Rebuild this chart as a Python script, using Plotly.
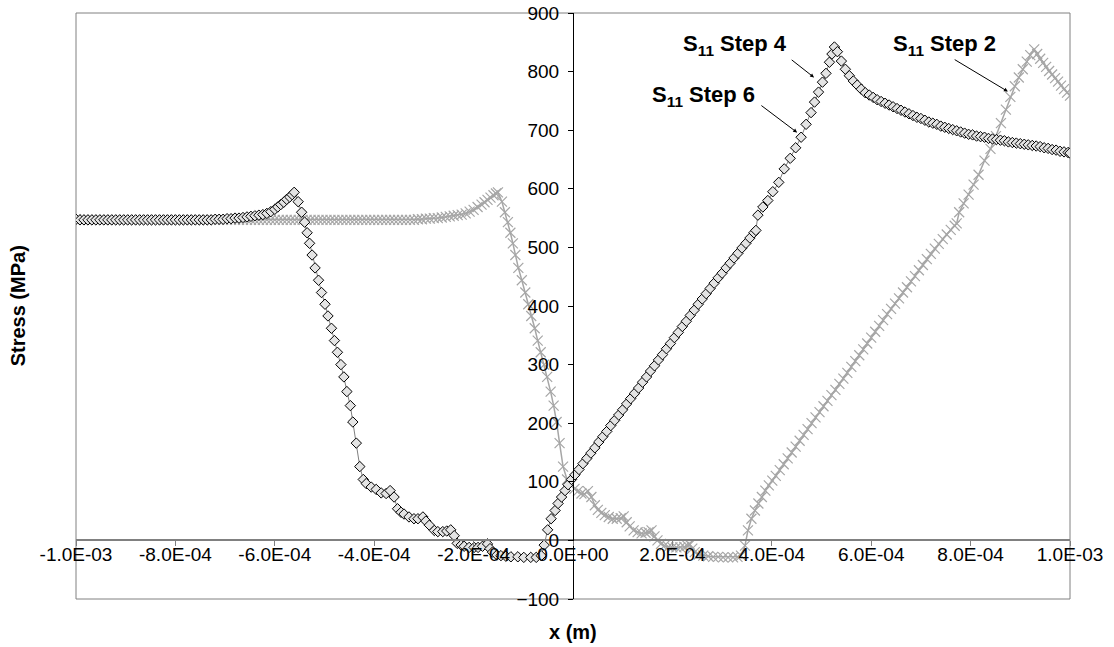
import plotly.graph_objects as go

# ---------------- data (x in micrometres, stress in MPa) ----------------
# S11 Step 4 / Step 6 (diamond series)
step46_x_um = [
    -1000, -992, -984, -976, -968, -960, -952, -944, -936, -928,
    -920, -912, -904, -896, -888, -880, -872, -864, -856, -848,
    -840, -832, -824, -816, -808, -800, -792, -784, -776, -768,
    -760, -752, -744, -736, -728, -720, -712, -704, -696, -688,
    -680, -672, -664, -656, -648, -640,
    -632, -624, -616, -608, -600, -594, -588, -582, -576, -570, -565, -561,
    -553, -546, -540, -535, -530, -525, -519, -512, -506, -499, -493, -486,
    -480, -474, -467, -461, -455, -448, -443, -436, -429, -422,
    -416, -406, -396, -386, -376, -368, -360, -353, -346, -340,
    -330, -320, -312, -302, -296, -289, -279, -272, -262, -254,
    -246, -239, -233, -225, -219, -209, -199, -191, -182, -172,
    -167, -162, -153, -145, -135, -125, -111, -99, -85, -74, -64,
    -58, -51, -44, -36, -30, -23, -16, -10, -3, 4,
    12, 20, 28, 36, 44, 52, 60, 68, 76, 84,
    92, 100, 108, 116, 124, 132, 140, 148, 156, 164,
    172, 180, 188, 196, 204, 212, 220, 228, 236, 244,
    252, 260, 268, 276, 284, 292, 300, 308, 316, 324,
    332, 340, 348, 356, 364, 368,
    372, 382, 392, 402, 414, 425, 437, 448, 459, 469,
    479, 486, 494, 502, 509, 516, 521, 526,
    532, 540, 548, 556, 564, 572, 580, 588, 596, 604,
    612, 620, 628, 636, 644, 652, 660, 668, 676, 684,
    692, 700, 708, 716, 724, 732, 740, 748, 756, 764,
    772, 780, 788, 796, 804, 812, 820, 828, 836, 844,
    852, 860, 868, 876, 884, 892, 900, 908, 916, 924,
    932, 940, 948, 956, 964, 972, 980, 988, 996, 1000,
]
step46_mpa = [
    548, 547, 547, 547, 547, 547, 547, 547, 547, 547,
    547, 547, 547, 547, 547, 547, 547, 547, 547, 547,
    547, 547, 547, 547, 547, 547, 547, 547, 547, 547,
    547, 547, 547, 547, 547, 548, 548, 548, 549, 549,
    550, 550, 551, 552, 553, 554,
    555, 556, 558, 561, 565, 569, 573, 577, 582, 586, 590, 594,
    578, 560, 543, 525, 507, 487, 465, 444, 423, 403, 383, 362,
    341, 321, 300, 279, 254, 230, 202, 166, 126, 104,
    97, 91, 87, 81, 80, 85, 74, 54, 48, 45,
    40, 37, 37, 40, 33, 26, 17, 15, 15, 16,
    18, 8, -5, -8, -10, -12, -12, -12, -10, -6,
    -14, -20, -25, -26, -27, -28, -28, -29, -29, -29, -26,
    -8, 18, 37, 51, 63, 74, 85, 95, 104, 112,
    121, 131, 140, 149, 158, 168, 177, 186, 196, 205,
    214, 223, 233, 242, 251, 260, 270, 279, 289, 298,
    308, 317, 327, 336, 346, 355, 365, 374, 384, 393,
    403, 412, 421, 430, 439, 448, 456, 465, 473, 482,
    490, 499, 507, 516, 525, 529,
    555, 569, 580, 595, 611, 634, 652, 670, 688, 710,
    730, 748, 765, 782, 797, 816, 830, 842,
    834, 818, 804, 793, 784, 777, 770, 764, 760, 756,
    752, 749, 746, 743, 740, 737, 734, 731, 728, 725,
    722, 720, 717, 714, 712, 710, 707, 705, 703, 701,
    699, 697, 695, 693, 692, 690, 689, 688, 686, 685,
    684, 683, 682, 680, 679, 678, 677, 676, 675, 674,
    673, 672, 670, 669, 667, 666, 664, 663, 662, 661,
]

# S11 Step 2 (star series)
step2_x_um = [
    -1000, -992, -984, -976, -968, -960, -952, -944, -936, -928,
    -920, -912, -904, -896, -888, -880, -872, -864, -856, -848,
    -840, -832, -824, -816, -808, -800, -792, -784, -776, -768,
    -760, -752, -744, -736, -728, -720, -712, -704, -696, -688,
    -680, -672, -664, -656, -648, -640, -632, -624, -616, -608,
    -600, -592, -584, -576, -568, -560, -552, -544, -536, -528,
    -520, -512, -504, -496, -488, -480, -472, -464, -456, -448,
    -440, -432, -424, -416, -408, -400, -392, -384, -376, -368,
    -360, -352, -344, -336, -328, -320, -312, -304, -296, -288,
    -280, -272, -264, -256, -248, -240,
    -232, -224, -216, -208, -200, -192, -184, -178, -172, -166, -160, -155, -151,
    -143, -137, -131, -126, -121, -116, -110, -103, -96, -90, -84, -77,
    -71, -65, -58, -52, -45, -39, -33, -27, -20, -12,
    -5, 3, 10, 17, 23, 30, 37, 44, 50, 57,
    64, 72, 80, 88, 96, 102, 108, 114, 122, 130,
    138, 146, 152, 158, 164, 170, 177, 184, 192, 200,
    208, 216, 224, 230, 235, 240, 245, 253, 262, 272,
    282, 292, 302, 312, 322, 331, 338,
    346, 352, 359, 366, 373, 380, 387, 394, 401, 408,
    416, 424, 432, 440, 448, 456, 464, 472, 480, 488,
    496, 504, 512, 520, 528, 536, 544, 552, 560, 568,
    576, 584, 592, 600, 608, 616, 624, 632, 640, 648,
    656, 664, 672, 680, 688, 696, 704, 712, 720, 728,
    736, 744, 752, 760, 768, 772,
    777, 786, 796, 806, 816, 828, 840, 851, 861, 871,
    880, 889, 897, 905, 913, 920, 928,
    934, 940, 946, 952, 958, 964, 970, 976, 982, 988, 994, 1000,
]
step2_mpa = [
    548, 547, 547, 547, 547, 547, 547, 547, 547, 547,
    547, 547, 547, 547, 547, 547, 547, 547, 547, 547,
    547, 547, 547, 547, 547, 547, 547, 547, 547, 547,
    547, 547, 547, 547, 547, 547, 547, 547, 547, 547,
    547, 547, 547, 547, 547, 547, 547, 547, 547, 547,
    547, 547, 547, 547, 547, 547, 547, 547, 547, 547,
    547, 547, 547, 547, 547, 547, 547, 547, 547, 547,
    547, 547, 547, 547, 547, 547, 547, 547, 547, 547,
    547, 547, 547, 547, 547, 547, 548, 548, 549, 549,
    550, 550, 551, 552, 553, 554,
    555, 556, 558, 561, 564, 569, 573, 577, 581, 585, 589, 592, 594,
    578, 560, 543, 525, 507, 487, 465, 444, 423, 403, 383, 362,
    341, 321, 300, 279, 254, 230, 202, 166, 126, 104,
    95, 88, 84, 80, 79, 84, 74, 60, 52, 47,
    43, 40, 37, 37, 38, 41, 31, 24, 17, 14,
    12, 13, 14, 17, 7, 0, -6, -9, -11, -12,
    -12, -12, -11, -9, -7, -14, -20, -24, -26, -27,
    -28, -28, -29, -29, -29, -28, -26,
    -9, 17, 37, 51, 63, 74, 85, 94, 102, 110,
    120, 130, 140, 150, 160, 170, 180, 190, 200, 210,
    219, 229, 238, 248, 257, 267, 276, 286, 296, 306,
    316, 326, 336, 346, 356, 366, 376, 386, 395, 404,
    413, 423, 432, 442, 451, 461, 470, 480, 489, 498,
    506, 514, 522, 530, 537, 541,
    560, 575, 590, 607, 624, 648, 668, 690, 712, 735,
    757, 775, 790, 804, 817, 828, 838,
    830, 822, 815, 808, 801, 795, 789, 783, 776, 770, 764, 759,
]

x_tick_vals = [-1.0e-3, -8.0e-4, -6.0e-4, -4.0e-4, -2.0e-4, 0.0,
               2.0e-4, 4.0e-4, 6.0e-4, 8.0e-4, 1.0e-3]
x_tick_text = ["-1.0E-03", "-8.0E-04", "-6.0E-04", "-4.0E-04", "-2.0E-04",
               "0.0E+00", "2.0E-04", "4.0E-04", "6.0E-04", "8.0E-04", "1.0E-03"]
y_tick_vals = [-100, 0, 100, 200, 300, 400, 500, 600, 700, 800, 900]

step46_x = [v * 1e-6 for v in step46_x_um]
step2_x = [v * 1e-6 for v in step2_x_um]

FONT = "Liberation Sans, Arial, sans-serif"

fig = go.Figure()
fig.add_trace(go.Scatter(
    x=step2_x, y=step2_mpa, mode="lines+markers", name="S11 Step 2",
    line=dict(color="#a6a6a6", width=1.5),
    marker=dict(symbol="x-thin", size=10, color="#a6a6a6",
                line=dict(color="#a6a6a6", width=1.2)),
))
fig.add_trace(go.Scatter(
    x=step46_x, y=step46_mpa, mode="lines+markers", name="S11 Step 4/6",
    line=dict(color="#808080", width=1),
    marker=dict(symbol="diamond", size=8, color="#e4e4e4",
                line=dict(color="#000000", width=1)),
))

# label texts
labels = [
    ("<b>S<sub>11</sub> Step 4</b>", 3.26e-4, 845),
    ("<b>S<sub>11</sub> Step 6</b>", 2.62e-4, 759),
    ("<b>S<sub>11</sub> Step 2</b>", 7.48e-4, 845),
]
for txt, lx, ly in labels:
    fig.add_annotation(x=lx, y=ly, xref="x", yref="y", text=txt, showarrow=False,
                       xanchor="center", yanchor="middle",
                       font=dict(family=FONT, size=22, color="#000000"))
# arrows (head, tail)
arrows = [
    (4.85e-4, 790, 4.37e-4, 822),
    (4.51e-4, 696, 3.76e-4, 744),
    (8.75e-4, 766, 7.65e-4, 822),
]
for hx, hy, tx, ty in arrows:
    fig.add_annotation(x=hx, y=hy, ax=tx, ay=ty, xref="x", yref="y",
                       axref="x", ayref="y", text="", showarrow=True,
                       arrowhead=2, arrowsize=0.8, arrowwidth=1,
                       arrowcolor="#000000")

# axis titles
fig.add_annotation(xref="paper", yref="paper", x=-0.058, y=0.5,
                   text="<b>Stress (MPa)</b>", showarrow=False, textangle=-90,
                   xanchor="center", yanchor="middle",
                   font=dict(family=FONT, size=20, color="#000000"))
fig.add_annotation(xref="paper", yref="paper", x=0.5, y=-0.056,
                   text="<b>x (m)</b>", showarrow=False,
                   xanchor="center", yanchor="middle",
                   font=dict(family=FONT, size=20, color="#000000"))

# plot-area frame
fig.add_shape(type="rect", xref="paper", yref="paper", x0=0, y0=0, x1=1, y1=1,
              line=dict(color="#808080", width=1), layer="below")

fig.update_layout(
    width=1114, height=647,
    margin=dict(l=76, r=44, t=13, b=48, autoexpand=False),
    paper_bgcolor="#ffffff", plot_bgcolor="#ffffff",
    showlegend=False,
    font=dict(family=FONT, size=19, color="#000000"),
    xaxis=dict(
        range=[-1.0e-3, 1.0e-3], domain=[0, 1], anchor="free", position=0.1,
        tickmode="array", tickvals=x_tick_vals, ticktext=x_tick_text,
        ticks="outside", ticklen=5, tickcolor="#808080", tickwidth=1,
        showline=True, linecolor="#808080", linewidth=2,
        showgrid=False, zeroline=False, ticklabelstandoff=-8,
        ticklabeloverflow="allow", automargin=False,
        tickfont=dict(family=FONT, size=19, color="#000000"),
    ),
    yaxis=dict(
        range=[-100, 900], domain=[0, 1], anchor="free", position=0.5,
        tickmode="array", tickvals=y_tick_vals,
        ticks="outside", ticklen=5, tickcolor="#000000", tickwidth=1,
        showline=True, linecolor="#000000", linewidth=1,
        showgrid=False, zeroline=False, ticklabelstandoff=5,
        ticklabeloverflow="allow", automargin=False,
        tickfont=dict(family=FONT, size=19, color="#000000"),
    ),
)

# remove the page's default 8px body margin so the figure fills the window
fig.write_html("out.html",
               config={"displayModeBar": False},
               post_script="document.body.style.margin='0';"
                           "document.body.style.overflow='hidden';")
